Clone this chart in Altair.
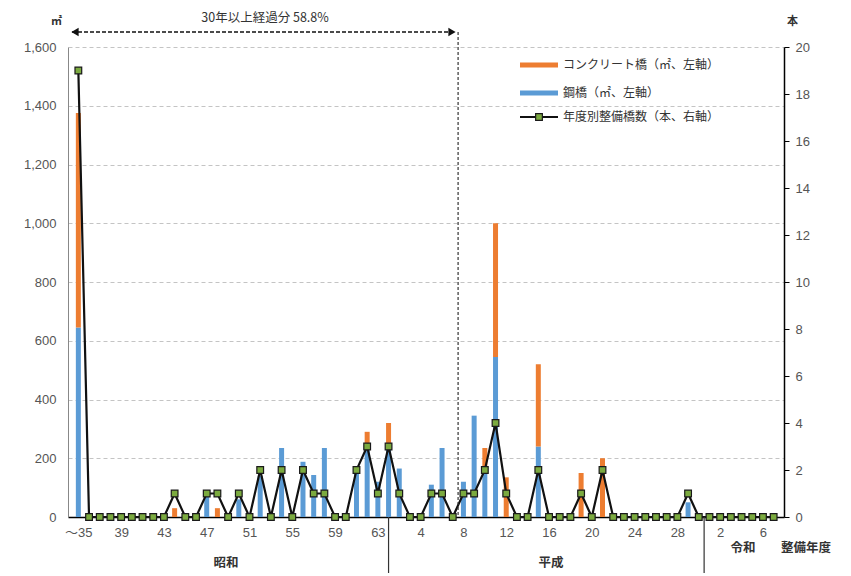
import json
import altair as alt
import pandas as pd

# ---- data ----
year_labels = (["～35"] + [str(y) for y in range(36, 64)]
               + [str(y) for y in range(1, 31)] + [str(y) for y in range(1, 8)])

steel = [645, 0, 0, 0, 0, 0, 0, 0, 0, 0,
         0, 0, 70, 0, 0, 60, 0, 140, 0, 235,
         0, 188, 143, 235, 0, 0, 170, 250, 120, 250,
         165, 0, 0, 110, 235, 0, 120, 345, 170, 545,
         0, 0, 0, 240, 0, 0, 0, 0, 0, 0,
         0, 0, 0, 0, 0, 0, 0, 50, 0, 0,
         0, 0, 0, 0, 0, 0]
concrete = [730, 0, 0, 0, 0, 0, 0, 0, 0, 30,
            0, 0, 0, 30, 0, 0, 0, 0, 0, 0,
            0, 0, 0, 0, 0, 0, 0, 40, 0, 70,
            0, 0, 0, 0, 0, 0, 0, 0, 65, 455,
            135, 0, 0, 280, 0, 0, 0, 150, 0, 200,
            0, 0, 0, 0, 0, 0, 0, 0, 0, 0,
            0, 0, 0, 0, 0, 0]
counts = [19, 0, 0, 0, 0, 0, 0, 0, 0, 1,
          0, 0, 1, 1, 0, 1, 0, 2, 0, 2,
          0, 2, 1, 1, 0, 0, 2, 3, 1, 3,
          1, 0, 0, 1, 1, 0, 1, 1, 2, 4,
          1, 0, 0, 2, 0, 0, 0, 1, 0, 2,
          0, 0, 0, 0, 0, 0, 0, 1, 0, 0,
          0, 0, 0, 0, 0, 0]

series_names = ["コンクリート橋（㎡、左軸）", "鋼橋（㎡、左軸）", "年度別整備橋数（本、右軸）"]
left_ticks = list(range(0, 1601, 200))
right_ticks = list(range(0, 21, 2))
x_ticks = list(range(0, 66, 4))

ORANGE = "#ED7D31"
BLUE = "#5B9BD5"
GREEN = "#7BAA3F"
NUM_FONT = "Liberation Sans, Noto Sans CJK JP"
JP_FONT = "Noto Sans CJK JP"

n = len(year_labels)
rows = []
for i in range(n):
    rows.append({"i": i, "type": series_names[1], "area": steel[i], "ord": 0})
    rows.append({"i": i, "type": series_names[0], "area": concrete[i], "ord": 1})
bars_df = pd.DataFrame(rows)
line_df = pd.DataFrame({"i": list(range(n)), "count": counts})
one = pd.DataFrame({"d": [0]})

x_scale = alt.Scale(domain=[-0.5, n - 0.5], nice=False, zero=False)
label_expr = json.dumps(year_labels, ensure_ascii=False) + "[datum.value]"

x_enc = alt.X("i:Q", scale=x_scale,
              axis=alt.Axis(values=x_ticks, labelExpr=label_expr, title=None, grid=False,
                            ticks=False, domainColor="#000", domainWidth=1.5,
                            labelFont=NUM_FONT, labelFontSize=13, labelColor="#555",
                            labelPadding=9))

bars = alt.Chart(bars_df).mark_bar(size=5).encode(
    x=x_enc,
    y=alt.Y("area:Q", stack="zero",
            scale=alt.Scale(domain=[0, 1600], nice=False),
            axis=alt.Axis(values=left_ticks, labelExpr="format(datum.value, ',')",
                          orient="left", ticks=False,
                          domainColor="#888", labelFont=NUM_FONT, labelFontSize=13,
                          labelColor="#555", labelPadding=12,
                          grid=True, gridDash=[4, 3], gridColor="#c4c4c4",
                          title="㎡", titleAngle=0, titleX=-12, titleY=-26,
                          titleFont=JP_FONT, titleFontSize=11, titleColor="#333",
                          titleAlign="center", titleBaseline="middle")),
    color=alt.Color("type:N", scale=alt.Scale(domain=series_names[:2], range=[ORANGE, BLUE]),
                    legend=None),
    order=alt.Order("ord:Q"),
)

line = alt.Chart(line_df).mark_line(
    color="#111", strokeWidth=2.2,
    point=alt.OverlayMarkDef(shape="square", size=45, filled=True, fill=GREEN,
                             stroke="#1a1a1a", strokeWidth=1.2),
).encode(
    x=alt.X("i:Q", scale=x_scale),
    y=alt.Y("count:Q", scale=alt.Scale(domain=[0, 20], nice=False),
            axis=alt.Axis(values=right_ticks, orient="right", ticks=True, tickSize=5,
                          tickColor="#000", domainColor="#000", domainWidth=1.5,
                          labelFont=NUM_FONT, labelFontSize=13, labelColor="#555",
                          labelPadding=6, grid=False,
                          title="本", titleAngle=0, titleX=8, titleY=-26,
                          titleFont=JP_FONT, titleFontSize=11, titleColor="#333",
                          titleAlign="center", titleBaseline="middle")),
)

# ---- annotations ----
ann = []
# 30-year boundary (dashed vertical)
ann.append(alt.Chart(one).mark_rule(color="#333", strokeDash=[3, 2], strokeWidth=1.2).encode(
    x=alt.datum(35.5, scale=x_scale), y=alt.value(-15), y2=alt.value(470)))
# double arrow
ann.append(alt.Chart(one).mark_rule(color="#111", strokeDash=[4, 2], strokeWidth=1.5).encode(
    x=alt.value(4), x2=alt.value(386), y=alt.value(-15)))
ann.append(alt.Chart(one).mark_point(shape="triangle-left", filled=True, size=70,
                                     color="#111", opacity=1).encode(
    x=alt.value(7), y=alt.value(-15)))
ann.append(alt.Chart(one).mark_point(shape="triangle-right", filled=True, size=70,
                                     color="#111", opacity=1).encode(
    x=alt.value(384), y=alt.value(-15)))
ann.append(alt.Chart(one).mark_text(text="30年以上経過分 58.8%", font=JP_FONT, fontSize=12.5,
                                    color="#333", align="center", baseline="middle").encode(
    x=alt.value(197), y=alt.value(-29)))
# era dividers
ann.append(alt.Chart(one).mark_rule(color="#333", strokeWidth=1.2).encode(
    x=alt.datum(29, scale=x_scale), y=alt.value(470), y2=alt.value(526)))
ann.append(alt.Chart(one).mark_rule(color="#333", strokeWidth=1.2).encode(
    x=alt.datum(58.5, scale=x_scale), y=alt.value(470), y2=alt.value(526)))
for txt, xx, yy, fw in [("昭和", 158, 516, "bold"), ("平成", 483, 516, "bold"),
                        ("令和", 675, 501, "bold"), ("整備年度", 738, 501, "bold")]:
    ann.append(alt.Chart(one).mark_text(text=txt, font=JP_FONT, fontSize=12.5, fontWeight=fw,
                                        color="#333", align="center", baseline="middle").encode(
        x=alt.value(xx), y=alt.value(yy)))
# legend
for name, col, yy in [(series_names[0], ORANGE, 18), (series_names[1], BLUE, 46)]:
    ann.append(alt.Chart(one).mark_rule(color=col, strokeWidth=5).encode(
        x=alt.value(452), x2=alt.value(490), y=alt.value(yy)))
    ann.append(alt.Chart(one).mark_text(text=name, font=JP_FONT, fontSize=12,
                                        color="#333", align="left", baseline="middle").encode(
        x=alt.value(495), y=alt.value(yy)))
ann.append(alt.Chart(one).mark_rule(color="#111", strokeWidth=2).encode(
    x=alt.value(452), x2=alt.value(490), y=alt.value(70)))
ann.append(alt.Chart(one).mark_point(shape="square", filled=True, size=45, fill=GREEN,
                                     stroke="#1a1a1a", strokeWidth=1.2, opacity=1).encode(
    x=alt.value(471), y=alt.value(70)))
ann.append(alt.Chart(one).mark_text(text=series_names[2], font=JP_FONT, fontSize=12,
                                    color="#333", align="left", baseline="middle").encode(
    x=alt.value(495), y=alt.value(70)))

chart = alt.layer(bars, line, *ann).resolve_scale(y="independent").properties(
    width=716, height=470,
    autosize=alt.AutoSizeParams(type="none"),
    padding={"left": 60, "top": 39, "right": 59, "bottom": 56},
    background="white",
).configure_view(stroke=None)

chart.save("out.html", embed_options={"renderer": "svg", "actions": False})
